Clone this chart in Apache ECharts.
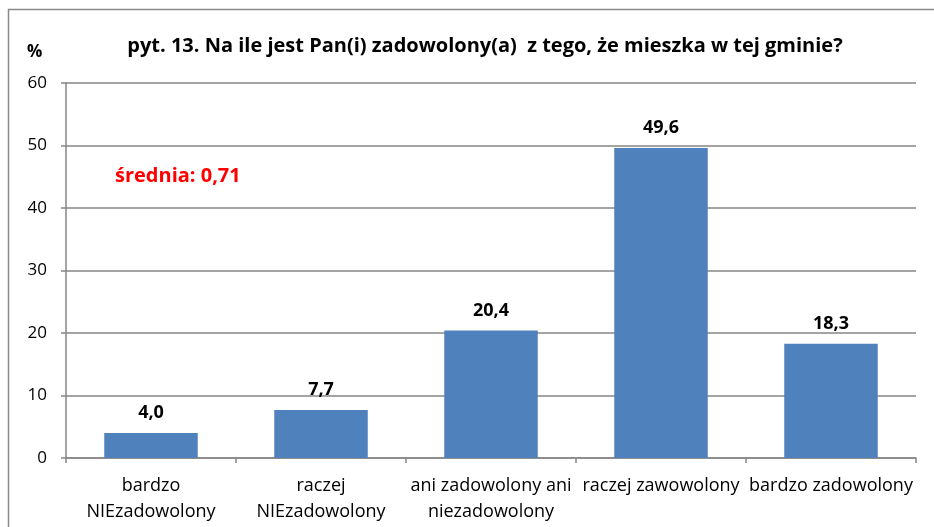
<!DOCTYPE html>
<html>
<head>
<meta charset="utf-8">
<script src="https://cdn.jsdelivr.net/npm/echarts@6/dist/echarts.min.js"></script>
<style>
  html, body { margin: 0; padding: 0; background: #fff; }
  #chart { width: 934px; height: 527px; }
</style>
</head>
<body>
<div id="chart"></div>
<script>
// kategorie odpowiedzi
var categories = [
    'bardzo\nNIEzadowolony',
    'raczej\nNIEzadowolony',
    'ani zadowolony ani\nniezadowolony',
    'raczej zawowolony',
    'bardzo zadowolony'
];
var values = [4.0, 7.7, 20.4, 49.6, 18.3]; // %
var yTicks = [0, 10, 20, 30, 40, 50, 60];
var titleText = 'pyt. 13. Na ile jest Pan(i) zadowolony(a)  z tego, że mieszka w tej gminie?';
var meanText = 'średnia: 0,71';

var font = '"Open Sans", Lato, sans-serif';

var option = {
    animation: false,
    title: {
        text: titleText,
        left: 480,
        top: 31,
        textAlign: 'center',
        textStyle: { fontFamily: font, fontSize: 20, fontWeight: 'bold', color: '#000' }
    },
    graphic: [
        // ramka wykresu
        {
            type: 'rect',
            shape: { x: 8.5, y: 9.5, width: 1000, height: 1000 },
            style: { fill: 'none', stroke: '#888', lineWidth: 1.5 }
        },
        {
            type: 'text',
            left: 27, top: 44,
            style: { text: '%', fontFamily: font, fontSize: 17, fontWeight: 'bold', fill: '#000' }
        },
        {
            type: 'text',
            left: 115, top: 166,
            style: { text: meanText, fontFamily: font, fontSize: 20, fontWeight: 'bold', fill: '#ff0000' }
        }
    ],
    grid: { left: 66, right: 18, top: 83, bottom: 69 },
    xAxis: {
        type: 'category',
        data: categories,
        axisLine: { lineStyle: { color: '#868686', width: 1.5 } },
        axisTick: { show: true, length: 5, lineStyle: { color: '#868686', width: 1.5 } },
        axisLabel: {
            interval: 0,
            margin: 15,
            fontFamily: font, fontSize: 18, color: '#000', lineHeight: 26
        }
    },
    yAxis: {
        type: 'value',
        min: yTicks[0],
        max: yTicks[yTicks.length - 1],
        interval: 10,
        axisLine: { show: true, lineStyle: { color: '#868686', width: 1.5 } },
        axisTick: { show: true, length: 5, lineStyle: { color: '#868686', width: 1.5 } },
        splitLine: { lineStyle: { color: '#868686', width: 1.5 } },
        axisLabel: { margin: 19, fontFamily: font, fontSize: 17, color: '#000' }
    },
    series: [{
        type: 'bar',
        data: values,
        barCategoryGap: '45%',
        itemStyle: { color: '#4f81bd' },
        label: {
            show: true,
            position: 'top',
            distance: 11,
            fontFamily: font, fontSize: 18, fontWeight: 'bold', color: '#000',
            formatter: function (p) { return p.value.toFixed(1).replace('.', ','); }
        }
    }]
};

echarts.init(document.getElementById('chart')).setOption(option);
</script>
</body>
</html>
